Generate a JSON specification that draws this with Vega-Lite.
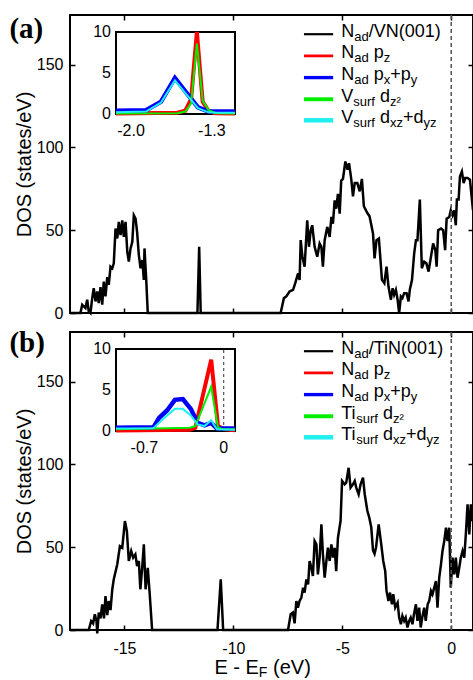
{
  "$schema": "https://vega.github.io/schema/vega-lite/v6.json",
  "padding": {"left": 8, "top": 13, "right": 0, "bottom": 0},
  "background": "white",
  "spacing": 19,
  "bounds": "flush",
  "config": {
    "view": {"stroke": "black", "strokeWidth": 2},
    "axis": {"grid": false, "domain": false, "labelFont": "Liberation Sans", "labelFontSize": 16, "labelColor": "black", "titleFont": "Liberation Sans", "titleFontSize": 20, "titleFontWeight": "normal", "titleColor": "black", "tickColor": "black", "tickWidth": 1.5, "tickSize": -5, "labelFlush": false},
    "text": {"font": "Liberation Sans", "color": "black"}
  },
  "datasets": {
    "mainA": [
      {"E": -17.5, "D": 0}, {"E": -17.02, "D": 0}, {"E": -16.94, "D": 5}, {"E": -16.79, "D": 3}, {"E": -16.71, "D": 8}, {"E": -16.64, "D": 1}, {"E": -16.56, "D": 0}, {"E": -16.48, "D": 9}, {"E": -16.41, "D": 15}, {"E": -16.33, "D": 7}, {"E": -16.25, "D": 13}, {"E": -16.18, "D": 6}, {"E": -16.1, "D": 15.6}, {"E": -16.02, "D": 5}, {"E": -15.95, "D": 19}, {"E": -15.87, "D": 10}, {"E": -15.79, "D": 21.7}, {"E": -15.72, "D": 17}, {"E": -15.64, "D": 28}, {"E": -15.56, "D": 27}, {"E": -15.49, "D": 30}, {"E": -15.41, "D": 51}, {"E": -15.33, "D": 45}, {"E": -15.26, "D": 55}, {"E": -15.18, "D": 47}, {"E": -15.1, "D": 56}, {"E": -15.03, "D": 46}, {"E": -14.95, "D": 55}, {"E": -14.87, "D": 37}, {"E": -14.8, "D": 31}, {"E": -14.72, "D": 39}, {"E": -14.64, "D": 43}, {"E": -14.57, "D": 59}, {"E": -14.49, "D": 57}, {"E": -14.42, "D": 49}, {"E": -14.34, "D": 35}, {"E": -14.26, "D": 27}, {"E": -14.18, "D": 32}, {"E": -14.11, "D": 20}, {"E": -14.08, "D": 39}, {"E": -14.0, "D": 20}, {"E": -13.93, "D": 0},
      {"E": -11.65, "D": 0}, {"E": -11.57, "D": 40}, {"E": -11.5, "D": 0},
      {"E": -7.83, "D": 0}, {"E": -7.68, "D": 9}, {"E": -7.57, "D": 10}, {"E": -7.42, "D": 13}, {"E": -7.26, "D": 14}, {"E": -7.16, "D": 18}, {"E": -7.03, "D": 24}, {"E": -6.96, "D": 20}, {"E": -6.91, "D": 44}, {"E": -6.83, "D": 34}, {"E": -6.73, "D": 28}, {"E": -6.61, "D": 56}, {"E": -6.53, "D": 40}, {"E": -6.45, "D": 50}, {"E": -6.38, "D": 53}, {"E": -6.27, "D": 40}, {"E": -6.15, "D": 34}, {"E": -6.04, "D": 42}, {"E": -5.96, "D": 40}, {"E": -5.89, "D": 28}, {"E": -5.81, "D": 44}, {"E": -5.69, "D": 52}, {"E": -5.58, "D": 46}, {"E": -5.5, "D": 58}, {"E": -5.43, "D": 54}, {"E": -5.35, "D": 68}, {"E": -5.28, "D": 63}, {"E": -5.2, "D": 72}, {"E": -5.12, "D": 60}, {"E": -5.05, "D": 80}, {"E": -4.97, "D": 81}, {"E": -4.86, "D": 91.5}, {"E": -4.76, "D": 86.5}, {"E": -4.69, "D": 90.5}, {"E": -4.59, "D": 81}, {"E": -4.51, "D": 70.5}, {"E": -4.43, "D": 78.5}, {"E": -4.31, "D": 78.5}, {"E": -4.2, "D": 73.5}, {"E": -4.1, "D": 81}, {"E": -4.01, "D": 64.5}, {"E": -3.85, "D": 60.4}, {"E": -3.75, "D": 58.4}, {"E": -3.59, "D": 48}, {"E": -3.52, "D": 33}, {"E": -3.43, "D": 44}, {"E": -3.32, "D": 45}, {"E": -3.18, "D": 20}, {"E": -3.07, "D": 18}, {"E": -2.97, "D": 28}, {"E": -2.88, "D": 16}, {"E": -2.77, "D": 8}, {"E": -2.69, "D": 15}, {"E": -2.62, "D": 11}, {"E": -2.54, "D": 14}, {"E": -2.46, "D": 8}, {"E": -2.39, "D": 0}, {"E": -2.31, "D": 10}, {"E": -2.24, "D": 9}, {"E": -2.16, "D": 12}, {"E": -2.05, "D": 12}, {"E": -1.96, "D": 7}, {"E": -1.9, "D": 14}, {"E": -1.8, "D": 20}, {"E": -1.7, "D": 36}, {"E": -1.62, "D": 44}, {"E": -1.55, "D": 44}, {"E": -1.44, "D": 68.5}, {"E": -1.35, "D": 27}, {"E": -1.24, "D": 31}, {"E": -1.14, "D": 30}, {"E": -1.04, "D": 25}, {"E": -0.93, "D": 34}, {"E": -0.83, "D": 42}, {"E": -0.73, "D": 38}, {"E": -0.67, "D": 28}, {"E": -0.6, "D": 50}, {"E": -0.47, "D": 51}, {"E": -0.37, "D": 50}, {"E": -0.28, "D": 38}, {"E": -0.21, "D": 57}, {"E": -0.09, "D": 58}, {"E": -0.02, "D": 62}, {"E": 0.06, "D": 59}, {"E": 0.14, "D": 62}, {"E": 0.21, "D": 53}, {"E": 0.26, "D": 68.5}, {"E": 0.34, "D": 68.5}, {"E": 0.4, "D": 82.5}, {"E": 0.49, "D": 85.5}, {"E": 0.57, "D": 78.5}, {"E": 0.64, "D": 81.5}, {"E": 0.75, "D": 81.5}, {"E": 0.86, "D": 80.5}, {"E": 0.98, "D": 64.5}, {"E": 1.0, "D": 62}
    ],
    "mainB": [
      {"E": -17.5, "D": 0}, {"E": -16.64, "D": 0}, {"E": -16.53, "D": 5.4}, {"E": -16.44, "D": 4}, {"E": -16.36, "D": 9.5}, {"E": -16.28, "D": 5}, {"E": -16.25, "D": -2}, {"E": -16.18, "D": 10.5}, {"E": -16.1, "D": 7}, {"E": -16.02, "D": 15.5}, {"E": -15.94, "D": 7}, {"E": -15.87, "D": 20.5}, {"E": -15.79, "D": 9}, {"E": -15.72, "D": 17.5}, {"E": -15.64, "D": 12}, {"E": -15.56, "D": 24.5}, {"E": -15.49, "D": 30.6}, {"E": -15.33, "D": 39.7}, {"E": -15.21, "D": 50.7}, {"E": -15.1, "D": 49.7}, {"E": -14.98, "D": 65.8}, {"E": -14.89, "D": 59.8}, {"E": -14.8, "D": 41.7}, {"E": -14.69, "D": 47.7}, {"E": -14.6, "D": 43.7}, {"E": -14.5, "D": 45.7}, {"E": -14.42, "D": 38.6}, {"E": -14.34, "D": 41.7}, {"E": -14.27, "D": 24.6}, {"E": -14.18, "D": 38.6}, {"E": -14.11, "D": 51.8}, {"E": -14.03, "D": 24.6}, {"E": -13.93, "D": 37.6}, {"E": -13.84, "D": 21.6}, {"E": -13.73, "D": 0},
      {"E": -10.73, "D": 0}, {"E": -10.58, "D": 30.6}, {"E": -10.47, "D": 0},
      {"E": -7.49, "D": 0}, {"E": -7.37, "D": 9.5}, {"E": -7.27, "D": 10.5}, {"E": -7.19, "D": 4}, {"E": -7.11, "D": 17.5}, {"E": -7.04, "D": 13.5}, {"E": -6.96, "D": 17.5}, {"E": -6.88, "D": 19.5}, {"E": -6.8, "D": 25.6}, {"E": -6.73, "D": 22.6}, {"E": -6.65, "D": 30.6}, {"E": -6.57, "D": 27.6}, {"E": -6.5, "D": 41.7}, {"E": -6.42, "D": 37.7}, {"E": -6.35, "D": 32.6}, {"E": -6.27, "D": 53.7}, {"E": -6.19, "D": 51.7}, {"E": -6.12, "D": 33.6}, {"E": -6.04, "D": 43.7}, {"E": -5.96, "D": 63.8}, {"E": -5.89, "D": 45.7}, {"E": -5.81, "D": 31.6}, {"E": -5.73, "D": 41.7}, {"E": -5.66, "D": 49.7}, {"E": -5.58, "D": 41.7}, {"E": -5.5, "D": 51.7}, {"E": -5.43, "D": 43.7}, {"E": -5.35, "D": 49.7}, {"E": -5.28, "D": 35.6}, {"E": -5.2, "D": 55.7}, {"E": -5.08, "D": 65.8}, {"E": -5.01, "D": 90}, {"E": -4.89, "D": 88}, {"E": -4.82, "D": 89}, {"E": -4.71, "D": 98}, {"E": -4.62, "D": 86}, {"E": -4.51, "D": 88}, {"E": -4.43, "D": 90}, {"E": -4.36, "D": 86}, {"E": -4.25, "D": 82}, {"E": -4.16, "D": 88}, {"E": -4.05, "D": 92}, {"E": -3.97, "D": 82}, {"E": -3.85, "D": 72}, {"E": -3.76, "D": 67.8}, {"E": -3.67, "D": 62}, {"E": -3.59, "D": 48}, {"E": -3.52, "D": 46}, {"E": -3.45, "D": 50}, {"E": -3.33, "D": 63.8}, {"E": -3.23, "D": 53.7}, {"E": -3.12, "D": 41.7}, {"E": -3.03, "D": 35.6}, {"E": -2.97, "D": 23.6}, {"E": -2.88, "D": 17.5}, {"E": -2.81, "D": 22.6}, {"E": -2.72, "D": 15.5}, {"E": -2.66, "D": 21.6}, {"E": -2.57, "D": 13.5}, {"E": -2.46, "D": 16.5}, {"E": -2.39, "D": 7.5}, {"E": -2.31, "D": 3.5}, {"E": -2.24, "D": 8.5}, {"E": -2.16, "D": 5.5}, {"E": -2.09, "D": 7.5}, {"E": -2.01, "D": 1.5}, {"E": -1.93, "D": 5.5}, {"E": -1.86, "D": 7.5}, {"E": -1.78, "D": 3.5}, {"E": -1.71, "D": 9.5}, {"E": -1.62, "D": 15.5}, {"E": -1.55, "D": 5.5}, {"E": -1.47, "D": 13.5}, {"E": -1.4, "D": 1.5}, {"E": -1.33, "D": 7.5}, {"E": -1.24, "D": 13.5}, {"E": -1.17, "D": 5.5}, {"E": -1.08, "D": 15.5}, {"E": -1.01, "D": 17.6}, {"E": -0.93, "D": 23.6}, {"E": -0.86, "D": 21.6}, {"E": -0.78, "D": 25.6}, {"E": -0.7, "D": 29.6}, {"E": -0.63, "D": 13.5}, {"E": -0.55, "D": 31.6}, {"E": -0.47, "D": 39.6}, {"E": -0.4, "D": 47.7}, {"E": -0.32, "D": 53.7}, {"E": -0.24, "D": 61.8}, {"E": -0.17, "D": 53.7}, {"E": -0.09, "D": 61.8}, {"E": -0.02, "D": 25.6}, {"E": 0.06, "D": 43.7}, {"E": 0.14, "D": 33.6}, {"E": 0.21, "D": 43.7}, {"E": 0.29, "D": 31.6}, {"E": 0.37, "D": 37.7}, {"E": 0.44, "D": 43.7}, {"E": 0.52, "D": 47.7}, {"E": 0.6, "D": 43.7}, {"E": 0.67, "D": 57.7}, {"E": 0.75, "D": 75.9}, {"E": 0.83, "D": 57.7}, {"E": 0.9, "D": 75.9}, {"E": 0.98, "D": 65.8}, {"E": 1.0, "D": 72}
    ],
    "insetA": [
      {"s": "pz", "E": -2.13, "v": 0.05}, {"s": "pz", "E": -1.6, "v": 0.15}, {"s": "pz", "E": -1.53, "v": 0.4}, {"s": "pz", "E": -1.48, "v": 1.8}, {"s": "pz", "E": -1.43, "v": 10}, {"s": "pz", "E": -1.38, "v": 1.5}, {"s": "pz", "E": -1.33, "v": 0.4}, {"s": "pz", "E": -1.27, "v": 0.1}, {"s": "pz", "E": -1.1, "v": 0.05},
      {"s": "dz", "E": -2.13, "v": 0.05}, {"s": "dz", "E": -1.6, "v": 0.1}, {"s": "dz", "E": -1.53, "v": 0.3}, {"s": "dz", "E": -1.48, "v": 1.3}, {"s": "dz", "E": -1.43, "v": 8.6}, {"s": "dz", "E": -1.38, "v": 1.6}, {"s": "dz", "E": -1.33, "v": 0.5}, {"s": "dz", "E": -1.27, "v": 0.1}, {"s": "dz", "E": -1.1, "v": 0.05},
      {"s": "pxy", "E": -2.13, "v": 0.4}, {"s": "pxy", "E": -1.87, "v": 0.45}, {"s": "pxy", "E": -1.74, "v": 1.5}, {"s": "pxy", "E": -1.62, "v": 4.4}, {"s": "pxy", "E": -1.51, "v": 2.4}, {"s": "pxy", "E": -1.42, "v": 0.8}, {"s": "pxy", "E": -1.33, "v": 0.3}, {"s": "pxy", "E": -1.25, "v": 0.3}, {"s": "pxy", "E": -1.1, "v": 0.3},
      {"s": "dxz", "E": -2.13, "v": 0.2}, {"s": "dxz", "E": -1.87, "v": 0.3}, {"s": "dxz", "E": -1.74, "v": 1.4}, {"s": "dxz", "E": -1.62, "v": 4.1}, {"s": "dxz", "E": -1.51, "v": 2.2}, {"s": "dxz", "E": -1.42, "v": 0.7}, {"s": "dxz", "E": -1.33, "v": 0.2}, {"s": "dxz", "E": -1.25, "v": 0.15}, {"s": "dxz", "E": -1.1, "v": 0.15}
    ],
    "insetB": [
      {"s": "pz", "E": -0.95, "v": 0.05}, {"s": "pz", "E": -0.3, "v": 0.15}, {"s": "pz", "E": -0.25, "v": 0.4}, {"s": "pz", "E": -0.11, "v": 8.7}, {"s": "pz", "E": -0.05, "v": 0.6}, {"s": "pz", "E": 0.0, "v": 0.25}, {"s": "pz", "E": 0.1, "v": 0.1},
      {"s": "dz", "E": -0.95, "v": 0.2}, {"s": "dz", "E": -0.3, "v": 0.4}, {"s": "dz", "E": -0.25, "v": 0.6}, {"s": "dz", "E": -0.11, "v": 5.4}, {"s": "dz", "E": -0.05, "v": 0.4}, {"s": "dz", "E": 0.0, "v": 0.2}, {"s": "dz", "E": 0.1, "v": 0.2},
      {"s": "pxy", "E": -0.95, "v": 0.4}, {"s": "pxy", "E": -0.62, "v": 0.45}, {"s": "pxy", "E": -0.57, "v": 1.6}, {"s": "pxy", "E": -0.5, "v": 2.5}, {"s": "pxy", "E": -0.43, "v": 3.8}, {"s": "pxy", "E": -0.36, "v": 3.9}, {"s": "pxy", "E": -0.29, "v": 2.7}, {"s": "pxy", "E": -0.23, "v": 1.0}, {"s": "pxy", "E": -0.17, "v": 0.7}, {"s": "pxy", "E": -0.11, "v": 1.0}, {"s": "pxy", "E": -0.06, "v": 0.3}, {"s": "pxy", "E": 0.1, "v": 0.3},
      {"s": "dxz", "E": -0.95, "v": 0.3}, {"s": "dxz", "E": -0.62, "v": 0.35}, {"s": "dxz", "E": -0.57, "v": 1.0}, {"s": "dxz", "E": -0.5, "v": 1.9}, {"s": "dxz", "E": -0.43, "v": 2.7}, {"s": "dxz", "E": -0.36, "v": 2.7}, {"s": "dxz", "E": -0.29, "v": 1.9}, {"s": "dxz", "E": -0.23, "v": 0.8}, {"s": "dxz", "E": -0.17, "v": 0.6}, {"s": "dxz", "E": -0.11, "v": 1.3}, {"s": "dxz", "E": -0.06, "v": 0.2}, {"s": "dxz", "E": 0.1, "v": 0.15}
    ],
    "insetYLabels": [{"v": 0, "t": "0"}, {"v": 5, "t": "5"}, {"v": 10, "t": "10"}],
    "insetXLabelsA": [{"E": -2.0, "t": "-2.0"}, {"E": -1.3, "t": "-1.3"}],
    "insetXLabelsB": [{"E": -0.7, "t": "-0.7"}, {"E": 0, "t": "0"}],
    "leg": [
      {"s": "tot", "D": 168.4}, {"s": "pz", "D": 155.3}, {"s": "pxy", "D": 142.2}, {"s": "dz", "D": 129.1}, {"s": "dxz", "D": 116.4}
    ],
    "legTextA": [
      {"E": -5.046, "D": 167.0, "t": "N"}, {"E": -3.784, "D": 167.0, "t": "/VN(001)"},
      {"E": -5.046, "D": 153.9, "t": "N"}, {"E": -3.555, "D": 153.9, "t": "p"},
      {"E": -5.046, "D": 140.8, "t": "N"}, {"E": -3.555, "D": 140.8, "t": "p"}, {"E": -2.798, "D": 140.8, "t": "+p"},
      {"E": -5.046, "D": 127.7, "t": "V"}, {"E": -3.271, "D": 127.7, "t": "d"},
      {"E": -5.046, "D": 115.0, "t": "V"}, {"E": -3.271, "D": 115.0, "t": "d"}, {"E": -2.216, "D": 115.0, "t": "+d"}
    ],
    "legSubA": [
      {"E": -4.45, "D": 167.0, "t": "ad"},
      {"E": -4.45, "D": 153.9, "t": "ad"}, {"E": -3.096, "D": 153.9, "t": "z"},
      {"E": -4.45, "D": 140.8, "t": "ad"}, {"E": -3.096, "D": 140.8, "t": "x"}, {"E": -1.858, "D": 140.8, "t": "y"},
      {"E": -4.495, "D": 127.7, "t": "surf"}, {"E": -2.812, "D": 127.7, "t": "z²"},
      {"E": -4.495, "D": 115.0, "t": "surf"}, {"E": -2.812, "D": 115.0, "t": "xz"}, {"E": -1.275, "D": 115.0, "t": "yz"}
    ],
    "legTextB": [
      {"E": -5.046, "D": 167.0, "t": "N"}, {"E": -3.784, "D": 167.0, "t": "/TiN(001)"},
      {"E": -5.046, "D": 153.9, "t": "N"}, {"E": -3.555, "D": 153.9, "t": "p"},
      {"E": -5.046, "D": 140.8, "t": "N"}, {"E": -3.555, "D": 140.8, "t": "p"}, {"E": -2.798, "D": 140.8, "t": "+p"},
      {"E": -5.046, "D": 127.7, "t": "Ti"}, {"E": -3.133, "D": 127.7, "t": "d"},
      {"E": -5.046, "D": 115.0, "t": "Ti"}, {"E": -3.133, "D": 115.0, "t": "d"}, {"E": -2.078, "D": 115.0, "t": "+d"}
    ],
    "legSubB": [
      {"E": -4.45, "D": 167.0, "t": "ad"},
      {"E": -4.45, "D": 153.9, "t": "ad"}, {"E": -3.096, "D": 153.9, "t": "z"},
      {"E": -4.45, "D": 140.8, "t": "ad"}, {"E": -3.096, "D": 140.8, "t": "x"}, {"E": -1.858, "D": 140.8, "t": "y"},
      {"E": -4.358, "D": 127.7, "t": "surf"}, {"E": -2.674, "D": 127.7, "t": "z²"},
      {"E": -4.358, "D": 115.0, "t": "surf"}, {"E": -2.674, "D": 115.0, "t": "xz"}, {"E": -1.138, "D": 115.0, "t": "yz"}
    ]
  },
  "vconcat": [
    {
      "width": 403, "height": 298,
      "layer": [
        {
          "layer": [
            {
              "data": {"name": "mainA"},
              "mark": {"type": "line", "color": "black", "strokeWidth": 2.5},
              "encoding": {
                "x": {"field": "E", "type": "quantitative", "scale": {"domain": [-17.5, 1], "nice": false, "zero": false}, "axis": {"orient": "bottom", "values": [-15, -10, -5, 0], "labels": false, "title": null}},
                "y": {"field": "D", "type": "quantitative", "scale": {"domain": [0, 180], "nice": false, "zero": false}, "axis": {"orient": "left", "values": [0, 50, 100, 150], "title": "DOS (states/eV)", "labelPadding": 12, "titlePadding": 2}}
              }
            },
            {
              "data": {"values": [{}]},
              "mark": {"type": "rule", "color": "#555555", "strokeDash": [4, 3], "strokeWidth": 1.5},
              "encoding": {
                "x": {"datum": 0, "type": "quantitative", "scale": {"domain": [-17.5, 1], "nice": false, "zero": false}, "axis": {"orient": "top", "values": [-15, -10, -5, 0], "labels": false, "title": null}}
              }
            },
            {
              "data": {"name": "leg"},
              "mark": {"type": "rule"},
              "encoding": {
                "x": {"datum": -6.76, "type": "quantitative", "scale": {"domain": [-17.5, 1], "nice": false, "zero": false}, "axis": null},
                "x2": {"datum": -5.42},
                "y": {"field": "D", "type": "quantitative", "scale": {"domain": [0, 180], "nice": false, "zero": false}, "axis": {"orient": "right", "values": [0, 50, 100, 150], "labels": false, "title": null}},
                "color": {"field": "s", "type": "nominal", "scale": {"domain": ["tot", "pz", "pxy", "dz", "dxz"], "range": ["black", "#ff0000", "#0000ff", "#00ee00", "#20f0f0"]}, "legend": null},
                "strokeWidth": {"field": "s", "type": "ordinal", "scale": {"domain": ["tot", "pz", "pxy", "dz", "dxz"], "range": [2.2, 4.5, 4.5, 1.8, 2.2]}, "legend": null}
              }
            },
            {
              "data": {"name": "legTextA"},
              "mark": {"type": "text", "fontSize": 18, "align": "left", "baseline": "alphabetic"},
              "encoding": {
                "x": {"field": "E", "type": "quantitative", "scale": {"domain": [-17.5, 1], "nice": false, "zero": false}, "axis": null},
                "y": {"field": "D", "type": "quantitative", "scale": {"domain": [0, 180], "nice": false, "zero": false}, "axis": null},
                "text": {"field": "t"}
              }
            },
            {
              "data": {"name": "legSubA"},
              "mark": {"type": "text", "fontSize": 13, "align": "left", "baseline": "alphabetic", "dy": 4},
              "encoding": {
                "x": {"field": "E", "type": "quantitative", "scale": {"domain": [-17.5, 1], "nice": false, "zero": false}, "axis": null},
                "y": {"field": "D", "type": "quantitative", "scale": {"domain": [0, 180], "nice": false, "zero": false}, "axis": null},
                "text": {"field": "t"}
              }
            },
            {
              "data": {"values": [{"E": -20.28, "D": 165.9, "t": "(a)"}]},
              "mark": {"type": "text", "font": "Liberation Serif", "fontWeight": "bold", "fontSize": 29, "align": "left", "baseline": "alphabetic"},
              "encoding": {
                "x": {"field": "E", "type": "quantitative", "scale": {"domain": [-17.5, 1], "nice": false, "zero": false}, "axis": null},
                "y": {"field": "D", "type": "quantitative", "scale": {"domain": [0, 180], "nice": false, "zero": false}, "axis": null},
                "text": {"field": "t"}
              }
            }
          ],
          "resolve": {"axis": {"x": "independent", "y": "independent"}}
        },
        {
          "data": {"name": "insetA"},
          "layer": [
            {
              "data": {"values": [{}]},
              "mark": {"type": "rect", "fill": null, "stroke": "black", "strokeWidth": 2},
              "encoding": {
                "x": {"datum": -2.13, "type": "quantitative", "scale": {"domain": [-2.13, -1.1], "range": [46, 165], "nice": false, "zero": false}, "axis": null},
                "x2": {"datum": -1.1},
                "y": {"datum": 0, "type": "quantitative", "scale": {"domain": [0, 10], "range": [99, 17], "nice": false, "zero": false}, "axis": null},
                "y2": {"datum": 10}
              }
            },
            {
              "data": {"name": "insetYLabels"},
              "mark": {"type": "text", "fontSize": 16, "align": "right", "baseline": "middle", "dx": -5},
              "encoding": {
                "x": {"datum": -2.13, "type": "quantitative", "scale": {"domain": [-2.13, -1.1], "range": [46, 165], "nice": false, "zero": false}, "axis": null},
                "y": {"field": "v", "type": "quantitative", "scale": {"domain": [0, 10], "range": [99, 17], "nice": false, "zero": false}, "axis": null},
                "text": {"field": "t"}
              }
            },
            {
              "data": {"name": "insetXLabelsA"},
              "mark": {"type": "text", "fontSize": 16, "align": "center", "baseline": "top", "dy": 9},
              "encoding": {
                "x": {"field": "E", "type": "quantitative", "scale": {"domain": [-2.13, -1.1], "range": [46, 165], "nice": false, "zero": false}, "axis": null},
                "y": {"datum": 0, "type": "quantitative", "scale": {"domain": [0, 10], "range": [99, 17], "nice": false, "zero": false}, "axis": null},
                "text": {"field": "t"}
              }
            },
            {
              "transform": [{"filter": "datum.s === 'pz'"}],
              "mark": {"type": "line", "color": "#ff0000", "strokeWidth": 4},
              "encoding": {
                "x": {"field": "E", "type": "quantitative", "scale": {"domain": [-2.13, -1.1], "range": [46, 165], "nice": false, "zero": false}, "axis": null},
                "y": {"field": "v", "type": "quantitative", "scale": {"domain": [0, 10], "range": [99, 17], "nice": false, "zero": false}, "axis": null}
              }
            },
            {
              "transform": [{"filter": "datum.s === 'pxy'"}],
              "mark": {"type": "line", "color": "#0000ff", "strokeWidth": 4.5},
              "encoding": {
                "x": {"field": "E", "type": "quantitative", "scale": {"domain": [-2.13, -1.1], "range": [46, 165], "nice": false, "zero": false}, "axis": null},
                "y": {"field": "v", "type": "quantitative", "scale": {"domain": [0, 10], "range": [99, 17], "nice": false, "zero": false}, "axis": null}
              }
            },
            {
              "transform": [{"filter": "datum.s === 'dz'"}],
              "mark": {"type": "line", "color": "#00ee00", "strokeWidth": 2},
              "encoding": {
                "x": {"field": "E", "type": "quantitative", "scale": {"domain": [-2.13, -1.1], "range": [46, 165], "nice": false, "zero": false}, "axis": null},
                "y": {"field": "v", "type": "quantitative", "scale": {"domain": [0, 10], "range": [99, 17], "nice": false, "zero": false}, "axis": null}
              }
            },
            {
              "transform": [{"filter": "datum.s === 'dxz'"}],
              "mark": {"type": "line", "color": "#20f0f0", "strokeWidth": 2},
              "encoding": {
                "x": {"field": "E", "type": "quantitative", "scale": {"domain": [-2.13, -1.1], "range": [46, 165], "nice": false, "zero": false}, "axis": null},
                "y": {"field": "v", "type": "quantitative", "scale": {"domain": [0, 10], "range": [99, 17], "nice": false, "zero": false}, "axis": null}
              }
            }
          ]
        }
      ],
      "resolve": {"scale": {"x": "independent", "y": "independent"}, "axis": {"x": "independent", "y": "independent"}}
    },
    {
      "width": 403, "height": 298,
      "layer": [
        {
          "layer": [
            {
              "data": {"name": "mainB"},
              "mark": {"type": "line", "color": "black", "strokeWidth": 2.5},
              "encoding": {
                "x": {"field": "E", "type": "quantitative", "scale": {"domain": [-17.5, 1], "nice": false, "zero": false}, "axis": {"orient": "bottom", "values": [-15, -10, -5, 0], "title": null, "labelPadding": 15, "labelExpr": "datum.value < 0 ? '-' + abs(datum.value) : '' + datum.value"}},
                "y": {"field": "D", "type": "quantitative", "scale": {"domain": [0, 180], "nice": false, "zero": false}, "axis": {"orient": "left", "values": [0, 50, 100, 150], "title": "DOS (states/eV)", "labelPadding": 12, "titlePadding": 2}}
              }
            },
            {
              "data": {"values": [{}]},
              "mark": {"type": "rule", "color": "#555555", "strokeDash": [4, 3], "strokeWidth": 1.5},
              "encoding": {
                "x": {"datum": 0, "type": "quantitative", "scale": {"domain": [-17.5, 1], "nice": false, "zero": false}, "axis": {"orient": "top", "values": [-15, -10, -5, 0], "labels": false, "title": null}}
              }
            },
            {
              "data": {"name": "leg"},
              "mark": {"type": "rule"},
              "encoding": {
                "x": {"datum": -6.76, "type": "quantitative", "scale": {"domain": [-17.5, 1], "nice": false, "zero": false}, "axis": null},
                "x2": {"datum": -5.42},
                "y": {"field": "D", "type": "quantitative", "scale": {"domain": [0, 180], "nice": false, "zero": false}, "axis": {"orient": "right", "values": [0, 50, 100, 150], "labels": false, "title": null}},
                "color": {"field": "s", "type": "nominal", "scale": {"domain": ["tot", "pz", "pxy", "dz", "dxz"], "range": ["black", "#ff0000", "#0000ff", "#00ee00", "#20f0f0"]}, "legend": null},
                "strokeWidth": {"field": "s", "type": "ordinal", "scale": {"domain": ["tot", "pz", "pxy", "dz", "dxz"], "range": [2.2, 4.5, 4.5, 1.8, 2.2]}, "legend": null}
              }
            },
            {
              "data": {"name": "legTextB"},
              "mark": {"type": "text", "fontSize": 18, "align": "left", "baseline": "alphabetic"},
              "encoding": {
                "x": {"field": "E", "type": "quantitative", "scale": {"domain": [-17.5, 1], "nice": false, "zero": false}, "axis": null},
                "y": {"field": "D", "type": "quantitative", "scale": {"domain": [0, 180], "nice": false, "zero": false}, "axis": null},
                "text": {"field": "t"}
              }
            },
            {
              "data": {"name": "legSubB"},
              "mark": {"type": "text", "fontSize": 13, "align": "left", "baseline": "alphabetic", "dy": 4},
              "encoding": {
                "x": {"field": "E", "type": "quantitative", "scale": {"domain": [-17.5, 1], "nice": false, "zero": false}, "axis": null},
                "y": {"field": "D", "type": "quantitative", "scale": {"domain": [0, 180], "nice": false, "zero": false}, "axis": null},
                "text": {"field": "t"}
              }
            },
            {
              "data": {"values": [{"E": -20.28, "D": 168.1, "t": "(b)"}]},
              "mark": {"type": "text", "font": "Liberation Serif", "fontWeight": "bold", "fontSize": 29, "align": "left", "baseline": "alphabetic"},
              "encoding": {
                "x": {"field": "E", "type": "quantitative", "scale": {"domain": [-17.5, 1], "nice": false, "zero": false}, "axis": null},
                "y": {"field": "D", "type": "quantitative", "scale": {"domain": [0, 180], "nice": false, "zero": false}, "axis": null},
                "text": {"field": "t"}
              }
            },
            {
              "data": {"values": [{"E": -10.87, "D": -26.8, "t": "E - E"}, {"E": -8.18, "D": -26.8, "t": "(eV)"}]},
              "mark": {"type": "text", "fontSize": 20, "align": "left", "baseline": "alphabetic"},
              "encoding": {
                "x": {"field": "E", "type": "quantitative", "scale": {"domain": [-17.5, 1], "nice": false, "zero": false}, "axis": null},
                "y": {"field": "D", "type": "quantitative", "scale": {"domain": [0, 180], "nice": false, "zero": false}, "axis": null},
                "text": {"field": "t"}
              }
            },
            {
              "data": {"values": [{"E": -8.83, "D": -26.8, "t": "F"}]},
              "mark": {"type": "text", "fontSize": 14, "align": "left", "baseline": "alphabetic", "dy": 3},
              "encoding": {
                "x": {"field": "E", "type": "quantitative", "scale": {"domain": [-17.5, 1], "nice": false, "zero": false}, "axis": null},
                "y": {"field": "D", "type": "quantitative", "scale": {"domain": [0, 180], "nice": false, "zero": false}, "axis": null},
                "text": {"field": "t"}
              }
            }
          ],
          "resolve": {"axis": {"x": "independent", "y": "independent"}}
        },
        {
          "data": {"name": "insetB"},
          "layer": [
            {
              "data": {"values": [{}]},
              "mark": {"type": "rect", "fill": null, "stroke": "black", "strokeWidth": 2},
              "encoding": {
                "x": {"datum": -0.95, "type": "quantitative", "scale": {"domain": [-0.95, 0.1], "range": [46, 165], "nice": false, "zero": false}, "axis": null},
                "x2": {"datum": 0.1},
                "y": {"datum": 0, "type": "quantitative", "scale": {"domain": [0, 10], "range": [99, 17], "nice": false, "zero": false}, "axis": null},
                "y2": {"datum": 10}
              }
            },
            {
              "data": {"name": "insetYLabels"},
              "mark": {"type": "text", "fontSize": 16, "align": "right", "baseline": "middle", "dx": -5},
              "encoding": {
                "x": {"datum": -0.95, "type": "quantitative", "scale": {"domain": [-0.95, 0.1], "range": [46, 165], "nice": false, "zero": false}, "axis": null},
                "y": {"field": "v", "type": "quantitative", "scale": {"domain": [0, 10], "range": [99, 17], "nice": false, "zero": false}, "axis": null},
                "text": {"field": "t"}
              }
            },
            {
              "data": {"name": "insetXLabelsB"},
              "mark": {"type": "text", "fontSize": 16, "align": "center", "baseline": "top", "dy": 9},
              "encoding": {
                "x": {"field": "E", "type": "quantitative", "scale": {"domain": [-0.95, 0.1], "range": [46, 165], "nice": false, "zero": false}, "axis": null},
                "y": {"datum": 0, "type": "quantitative", "scale": {"domain": [0, 10], "range": [99, 17], "nice": false, "zero": false}, "axis": null},
                "text": {"field": "t"}
              }
            },
            {
              "data": {"values": [{}]},
              "mark": {"type": "rule", "color": "#555555", "strokeDash": [3, 3], "strokeWidth": 1.2},
              "encoding": {
                "x": {"datum": 0, "type": "quantitative", "scale": {"domain": [-0.95, 0.1], "range": [46, 165], "nice": false, "zero": false}, "axis": null},
                "y": {"datum": 0, "type": "quantitative", "scale": {"domain": [0, 10], "range": [99, 17], "nice": false, "zero": false}, "axis": null},
                "y2": {"datum": 10}
              }
            },
            {
              "transform": [{"filter": "datum.s === 'pz'"}],
              "mark": {"type": "line", "color": "#ff0000", "strokeWidth": 4},
              "encoding": {
                "x": {"field": "E", "type": "quantitative", "scale": {"domain": [-0.95, 0.1], "range": [46, 165], "nice": false, "zero": false}, "axis": null},
                "y": {"field": "v", "type": "quantitative", "scale": {"domain": [0, 10], "range": [99, 17], "nice": false, "zero": false}, "axis": null}
              }
            },
            {
              "transform": [{"filter": "datum.s === 'pxy'"}],
              "mark": {"type": "line", "color": "#0000ff", "strokeWidth": 4.5},
              "encoding": {
                "x": {"field": "E", "type": "quantitative", "scale": {"domain": [-0.95, 0.1], "range": [46, 165], "nice": false, "zero": false}, "axis": null},
                "y": {"field": "v", "type": "quantitative", "scale": {"domain": [0, 10], "range": [99, 17], "nice": false, "zero": false}, "axis": null}
              }
            },
            {
              "transform": [{"filter": "datum.s === 'dz'"}],
              "mark": {"type": "line", "color": "#00ee00", "strokeWidth": 2},
              "encoding": {
                "x": {"field": "E", "type": "quantitative", "scale": {"domain": [-0.95, 0.1], "range": [46, 165], "nice": false, "zero": false}, "axis": null},
                "y": {"field": "v", "type": "quantitative", "scale": {"domain": [0, 10], "range": [99, 17], "nice": false, "zero": false}, "axis": null}
              }
            },
            {
              "transform": [{"filter": "datum.s === 'dxz'"}],
              "mark": {"type": "line", "color": "#20f0f0", "strokeWidth": 2},
              "encoding": {
                "x": {"field": "E", "type": "quantitative", "scale": {"domain": [-0.95, 0.1], "range": [46, 165], "nice": false, "zero": false}, "axis": null},
                "y": {"field": "v", "type": "quantitative", "scale": {"domain": [0, 10], "range": [99, 17], "nice": false, "zero": false}, "axis": null}
              }
            }
          ]
        }
      ],
      "resolve": {"scale": {"x": "independent", "y": "independent"}, "axis": {"x": "independent", "y": "independent"}}
    }
  ]
}
